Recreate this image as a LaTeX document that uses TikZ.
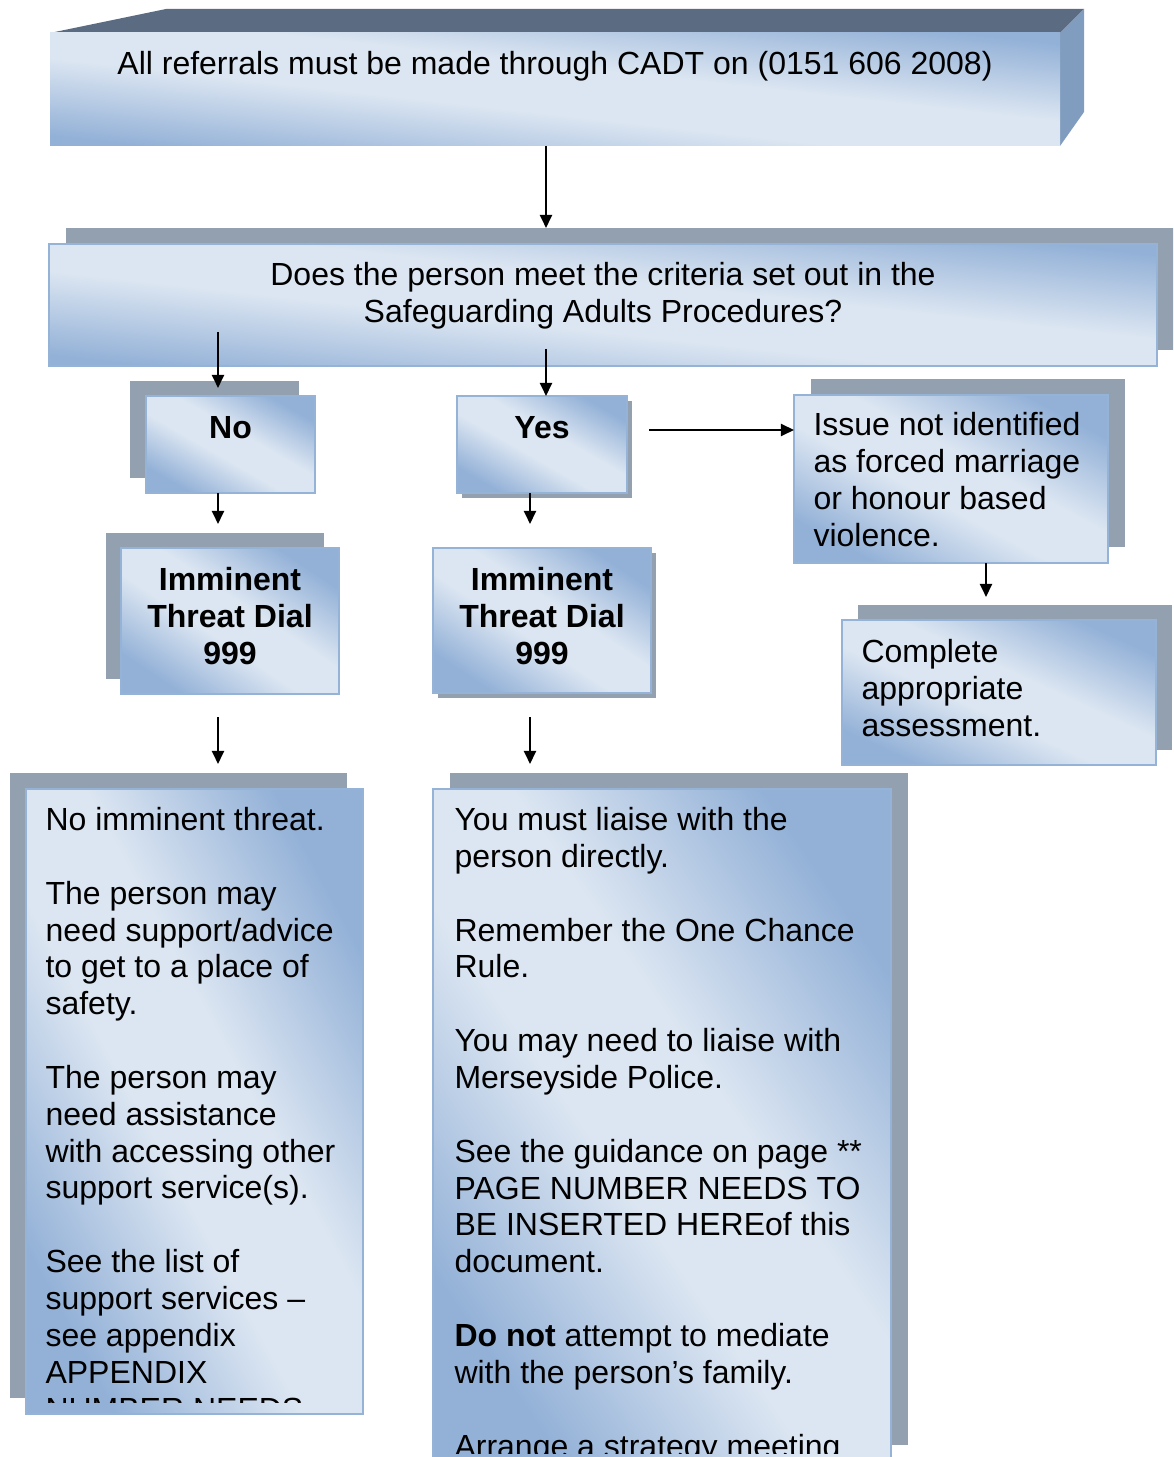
\documentclass[tikz,border=0pt]{standalone}
\usepackage{fontspec}
\setmainfont{Liberation Sans}
\usetikzlibrary{shadows,arrows.meta}
\definecolor{lightc}{HTML}{DCE6F2}
\definecolor{bluec}{HTML}{93B1D7}
\definecolor{bordc}{HTML}{95B3D7}
\definecolor{shadc}{HTML}{93A0AF}
\definecolor{topc}{HTML}{5B6B82}
\definecolor{sidec}{HTML}{809DBF}
\pgfdeclareverticalshading{wgrad}{100bp}{color(0bp)=(bluec); color(25bp)=(bluec); color(44bp)=(lightc); color(56bp)=(lightc); color(75bp)=(bluec); color(100bp)=(bluec)}
\newcommand\mybox[6]{\pgfmathsetmacro\shang{-atan((#5-#3)/(#4-#2))}%
  \node[box,shading angle=\shang,#6,minimum width={(#4-#2)*0.375pt},minimum height={(#5-#3)*0.375pt}] (#1) at (#2,#3) {};}
\tikzset{
  box/.style={draw=bordc, line width=0.6pt, shade, shading=wgrad, inner sep=0pt, outer sep=0pt, anchor=north west},
  sh/.style 2 args={general shadow={fill=shadc, shadow xshift=#1*0.375pt, shadow yshift=#2*0.375pt}},
  arr/.style={line width=0.8pt, -{Triangle[length=4.9pt,width=4.5pt]}},
  txt/.style={inner sep=0pt, font=\fontsize{12pt}{13.82pt}\selectfont},
  btxt/.style={inner sep=0pt, align=center, font=\fontsize{12pt}{13.82pt}\selectfont\bfseries},
}
\begin{document}
\begin{tikzpicture}[x=0.375pt,y=-0.375pt]
\useasboundingbox (0,0) rectangle (1173,1457);
\clip (0,0) rectangle (1173,1457);
% top 3D box
\fill[topc] (50,33) -- (166,9) -- (1084,9) -- (1060,33) -- cycle;
\fill[sidec] (1060,33) -- (1084,9) -- (1084,112) -- (1060,146) -- cycle;
\mybox{top}{50}{33}{1060}{146}{draw=none}
% boxes
\mybox{does}{49}{244}{1157}{366}{sh={17}{16}}
\mybox{no}{146}{396}{315}{493}{sh={-16}{15}}
\mybox{yes}{457}{396}{627}{493}{sh={5}{-5}}
\mybox{issue}{794}{395}{1108}{563}{sh={17}{16}}
\mybox{complete}{842}{620}{1156}{765}{sh={16}{15}}
\mybox{imml}{121}{548}{339}{694}{sh={-15}{15}}
\mybox{immr}{433}{548}{651}{693}{sh={5}{-5}}
\mybox{botl}{26}{789}{363}{1414}{sh={-16}{16}}
\mybox{botr}{433}{789}{891}{1461}{sh={17}{16}}
% connectors
\coordinate (c1) at (546,228);
\draw[arr] (top.south -| c1) -- (c1);
\coordinate (c2a) at (218,332); \coordinate (c2b) at (218,388);
\draw[arr] (c2a) -- (c2b);
\coordinate (c3) at (546,349);
\draw[arr] (c3) -- (yes.north -| c3);
\coordinate (c4) at (649,430);
\draw[arr] (c4) -- (issue.west |- c4);
\coordinate (c5) at (218,524);
\draw[arr] (no.south -| c5) -- (c5);
\coordinate (c6) at (530,524);
\draw[arr] (yes.south -| c6) -- (c6);
\coordinate (c7) at (986,597);
\draw[arr] (issue.south -| c7) -- (c7);
\coordinate (c8a) at (218,717); \coordinate (c8b) at (218,764);
\draw[arr] (c8a) -- (c8b);
\coordinate (c9a) at (530,717); \coordinate (c9b) at (530,764);
\draw[arr] (c9a) -- (c9b);
% texts (anchor base = baseline of the last line)
\node[txt, anchor=base] (ttop) at (555,74.5) {All referrals must be made through CADT on (0151 606 2008)};
\node[txt, align=center, anchor=base] (tdoes) at (603,322.3) {Does the person meet the criteria set out in the\\Safeguarding Adults Procedures?};
\node[btxt, anchor=base] (tno) at (230.5,438.5) {No};
\node[btxt, anchor=base] (tyes) at (542,438.5) {Yes};
\node[btxt, anchor=base] (timml) at (230,664.2) {Imminent\\Threat Dial\\999};
\node[btxt, anchor=base] (timmr) at (542,664.2) {Imminent\\Threat Dial\\999};
\node[txt, align=left, anchor=base west] (tissue) at (813,546.5) {Issue not identified\\as forced marriage\\or honour based\\violence.};
\node[txt, align=left, anchor=base west] (tcomplete) at (861,736.2) {Complete\\appropriate\\assessment.};
\begin{scope}
\clip (26,789) rectangle (363,1402);
\node[txt, align=left, anchor=base west] (tbotl) at (45,1420.1) {No imminent threat.\\[13.82pt]The person may\\need support/advice\\to get to a place of\\safety.\\[13.82pt]The person may\\need assistance\\with accessing other\\support service(s).\\[13.82pt]See the list of\\support services --\\see appendix\\APPENDIX\\NUMBER NEEDS};
\end{scope}
\begin{scope}
\clip (433,789) rectangle (891,1453);
\node[txt, align=left, anchor=base west] (tbotr) at (454,1457) {You must liaise with the\\person directly.\\[13.82pt]Remember the One Chance\\Rule.\\[13.82pt]You may need to liaise with\\Merseyside Police.\\[13.82pt]See the guidance on page **\\PAGE NUMBER NEEDS TO\\BE INSERTED HEREof this\\document.\\[13.82pt]\textbf{Do not} attempt to mediate\\with the person’s family.\\[13.82pt]Arrange a strategy meeting};
\end{scope}
\end{tikzpicture}
\end{document}
